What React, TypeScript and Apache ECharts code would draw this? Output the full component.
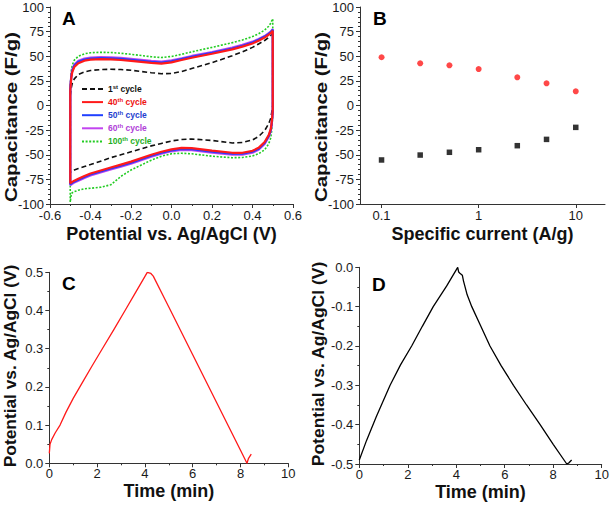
import React, { useEffect, useRef } from 'react';
import * as echarts from 'echarts';

// ---------- Panel A: cyclic voltammetry ----------
const CV_POTENTIAL = [-0.5, -0.495, -0.49, -0.48, -0.46, -0.43, -0.4, -0.35, -0.3, -0.25, -0.2, -0.1, -0.05, 0, 0.05, 0.1, 0.2, 0.3, 0.35, 0.4, 0.43, 0.46, 0.48, 0.49, 0.495, 0.5];

const CV1_UPPER = [10, 18, 22.5, 27, 31.5, 34, 35.5, 36.5, 36.8, 36.5, 35.8, 33.3, 32.3, 32.5, 34.5, 37.5, 43.5, 50.5, 54.5, 59, 62.5, 66, 69, 71, 72, 73];
const CV1_LOWER = [-68, -67, -66.5, -65.5, -64, -62, -60, -56.5, -53, -50, -47, -41, -38.5, -36, -34.5, -34, -35.5, -38, -37.5, -35, -31.5, -25.5, -18.5, -13, -7, 0];

const CV40_UPPER = [15, 28, 34, 39, 43, 45.5, 46.5, 47, 46.8, 46.2, 45.3, 43.3, 42.5, 43.8, 46.2, 48.5, 52.5, 57, 59.8, 63, 65.8, 69, 71.8, 73.5, 74.5, 76];
const CV40_LOWER = [-79, -78.3, -77.6, -76.3, -74.3, -71.5, -69, -66, -63, -60, -57, -50, -47, -44.5, -43, -43.3, -45.8, -48, -48, -46, -43, -37, -30, -24, -17, -5];

const CV50_UPPER = [16, 29, 35.5, 40.5, 44.3, 46.6, 47.6, 48.1, 47.9, 47.3, 46.4, 44.3, 43.6, 44.8, 47.1, 49.4, 53.4, 57.9, 60.7, 63.9, 66.7, 70, 72.8, 74.5, 75.5, 77];
const CV50_LOWER = [-80, -79.3, -78.6, -77.3, -75.3, -72.5, -70, -67, -64, -61, -58, -51, -48, -45.5, -44, -44.3, -46.8, -49, -49, -47, -44, -38, -31, -25, -18, -6];

const CV60_UPPER = [17, 30, 36.5, 41.5, 45.3, 47.6, 48.6, 49.1, 48.9, 48.3, 47.4, 45.3, 44.6, 45.8, 48, 50.3, 54.3, 58.8, 61.6, 64.8, 67.5, 70.5, 73.5, 75, 76, 77.5];
const CV60_LOWER = [-81, -80.3, -79.6, -78.3, -76.3, -73.5, -71, -68, -65, -62, -59, -52, -49, -46.5, -45, -45.3, -47.8, -50, -50, -48, -45, -39, -32, -26, -19, -7];

const CV100_UPPER = [20, 35, 41, 46, 50, 52.5, 53.6, 54, 53.8, 53, 52, 49.5, 48.7, 49.8, 52, 54.5, 59, 63.8, 66.5, 70, 72.8, 76.5, 80.5, 83.5, 86, 88];
const CV100_LOWER = [-98, -90, -88.5, -87.5, -86, -84.5, -84, -83, -80.5, -72, -65.5, -55.5, -51.5, -49, -48.5, -49, -51.5, -53, -52.8, -51.3, -49, -45, -39, -33, -25, -10];

const CYCLE_NUMS = ['1', '40', '50', '60', '100'];
const CYCLE_SUFFIX = ['st', 'th', 'th', 'th', 'th'];
const CYCLE_LINE_COLORS = ['#111111', '#ff1a1a', '#2040ff', '#c244f0', '#22cc22'];
const CYCLE_TEXT_COLORS = ['#111111', '#ee1111', '#1f3fd0', '#b040d8', '#1fb01f'];

// ---------- Panel B: rate capability ----------
const RATE_CURRENTS = [0.1, 0.25, 0.5, 1, 2.5, 5, 10];
const RATE_CHARGE = [49, 42.8, 40.8, 37, 28.6, 22.5, 14.4];
const RATE_DISCHARGE = [-55.3, -50.3, -47.5, -44.9, -40.8, -34.4, -22.2];

// ---------- Panel C: charge/discharge 0..0.5 V ----------
const GCD_C_TIME = [0, 0.03, 0.1, 0.25, 0.45, 0.7, 1.0, 1.4, 1.8, 2.2, 2.7, 3.17, 3.6, 4.1, 4.25, 4.35, 5, 6, 7, 8, 8.27, 8.33, 8.45];
const GCD_C_POT = [0.026, 0.05, 0.062, 0.08, 0.1, 0.134, 0.17, 0.213, 0.256, 0.298, 0.35, 0.4, 0.446, 0.5, 0.497, 0.49, 0.409, 0.284, 0.159, 0.034, 0.0, 0.012, 0.024];

// ---------- Panel D: charge/discharge -0.5..0 V ----------
const GCD_D_TIME = [0, 0.3, 0.7, 1.27, 1.7, 2.16, 2.6, 3.05, 3.6, 4.06, 4.1, 4.15, 4.25, 4.3, 4.45, 4.64, 5.0, 5.39, 5.85, 6.36, 6.9, 7.46, 8.0, 8.56, 8.65, 8.76];
const GCD_D_POT = [-0.49, -0.44, -0.38, -0.3, -0.248, -0.2, -0.15, -0.1, -0.048, 0.0, -0.012, -0.015, -0.02, -0.035, -0.07, -0.1, -0.148, -0.2, -0.25, -0.3, -0.35, -0.4, -0.45, -0.5, -0.497, -0.49];

const Y_TITLES = ['Capacitance (F/g)', 'Capacitance (F/g)', 'Potential vs. Ag/AgCl (V)', 'Potential vs. Ag/AgCl (V)'];
const PANEL_LETTERS = ['A', 'B', 'C', 'D'];

const FONT = '"Liberation Sans", Arial, sans-serif';

function loopPoints(upper: number[], lower: number[]) {
  const pts: number[][] = CV_POTENTIAL.map((v, i) => [v, upper[i]]);
  for (let i = CV_POTENTIAL.length - 1; i >= 0; i--) pts.push([CV_POTENTIAL[i], lower[i]]);
  pts.push([CV_POTENTIAL[0], upper[0]]);
  return pts;
}

const axisCommon = {
  axisLine: { show: true, onZero: false, lineStyle: { color: '#333', width: 1 } },
  axisTick: { show: true, inside: false, length: 4, lineStyle: { color: '#333' } },
  minorTick: { show: true, length: 2, lineStyle: { color: '#333' } },
  splitLine: { show: false },
  axisLabel: { fontSize: 13, color: '#1a1a1a', fontFamily: FONT },
  nameLocation: 'middle' as const,
  nameTextStyle: { fontSize: 18, fontWeight: 'bold' as const, color: '#111', fontFamily: FONT },
};

export default function App() {
  const ref = useRef<HTMLDivElement>(null);
  useEffect(() => {
    if (!ref.current) return;
    const chart = echarts.init(ref.current, undefined, { renderer: 'svg' });
    const names = CYCLE_NUMS.map((n, i) => `${n}${CYCLE_SUFFIX[i]} cycle`);
    const uppers = [CV1_UPPER, CV40_UPPER, CV50_UPPER, CV60_UPPER, CV100_UPPER];
    const lowers = [CV1_LOWER, CV40_LOWER, CV50_LOWER, CV60_LOWER, CV100_LOWER];
    const lineTypes: any[] = [[5, 3], 'solid', 'solid', 'solid', [2, 1.6]];
    const widths = [1.6, 2.2, 2.2, 2.2, 1.6];
    const zs = [3, 6, 5, 4, 2];

    const rich: any = {};
    CYCLE_NUMS.forEach((_, i) => {
      rich['n' + i] = { fontSize: 8.5, fontWeight: 'bold', color: CYCLE_TEXT_COLORS[i], fontFamily: FONT, lineHeight: 10 };
      rich['s' + i] = { fontSize: 6, fontWeight: 'bold', color: CYCLE_TEXT_COLORS[i], fontFamily: FONT, verticalAlign: 'top', lineHeight: 7 };
    });

    const cvSeries = names.map((name, i) => ({
      name,
      type: 'line',
      xAxisIndex: 0,
      yAxisIndex: 0,
      data: loopPoints(uppers[i], lowers[i]),
      symbol: 'none',
      showSymbol: false,
      z: zs[i],
      lineStyle: { color: CYCLE_LINE_COLORS[i], width: widths[i], type: lineTypes[i] },
      itemStyle: { color: CYCLE_LINE_COLORS[i] },
    }));

    const yTitlePos = [
      { x: 11, y: 117, scale: 1.2 },
      { x: 321, y: 117, scale: 1.2 },
      { x: 10, y: 366, scale: 1.02 },
      { x: 318, y: 364, scale: 1.03 },
    ];
    const letterPos = [
      { x: 62, y: 18.5 },
      { x: 373, y: 18.5 },
      { x: 62, y: 283 },
      { x: 372, y: 284 },
    ];

    const graphic: any[] = [
      ...PANEL_LETTERS.map((t, i) => ({
        type: 'text', x: letterPos[i].x, y: letterPos[i].y,
        style: { text: t, fontSize: 19, fontWeight: 'bold', fontFamily: FONT, fill: '#000', verticalAlign: 'middle' },
      })),
      ...Y_TITLES.map((t, i) => ({
        type: 'text', x: yTitlePos[i].x, y: yTitlePos[i].y, rotation: Math.PI / 2, scaleX: yTitlePos[i].scale,
        style: { text: t, fontSize: 17, fontWeight: 'bold', fontFamily: FONT, fill: '#111', align: 'center', verticalAlign: 'middle' },
      })),
    ];

    const option: any = {
      animation: false,
      grid: [
        { left: 50, top: 7, width: 243, height: 197 },
        { left: 360, top: 7, width: 245, height: 197 },
        { left: 49.3, top: 272.3, width: 239, height: 191 },
        { left: 359.3, top: 267.3, width: 242.4, height: 196.7 },
      ],
      legend: {
        orient: 'vertical',
        left: 81,
        top: 84,
        padding: 0,
        itemWidth: 21,
        itemHeight: 8,
        itemGap: 3.6,
        selectedMode: false,
        itemStyle: { opacity: 0 },
        data: names.map((n) => ({ name: n })),
        formatter: (name: string) => {
          const i = names.indexOf(name);
          return `{n${i}|${CYCLE_NUMS[i]}}{s${i}|${CYCLE_SUFFIX[i]}}{n${i}| cycle}`;
        },
        textStyle: { rich },
      },
      xAxis: [
        {
          ...axisCommon, type: 'value', gridIndex: 0, min: -0.6, max: 0.6, interval: 0.2,
          minorTick: { ...axisCommon.minorTick, splitNumber: 2 },
          axisLabel: { ...axisCommon.axisLabel, margin: 5, formatter: (v: number) => v.toFixed(1) },
          name: 'Potential vs. Ag/AgCl (V)', nameGap: 21,
        },
        {
          ...axisCommon, type: 'log', logBase: 10, gridIndex: 1, min: 0.06, max: 20,
          minorTick: { show: false },
          axisLabel: { ...axisCommon.axisLabel, margin: 5, showMinLabel: false, showMaxLabel: false },
          name: 'Specific current (A/g)', nameGap: 21,
        },
        {
          ...axisCommon, type: 'value', gridIndex: 2, min: 0, max: 10, interval: 2,
          minorTick: { ...axisCommon.minorTick, splitNumber: 2 },
          axisLabel: { ...axisCommon.axisLabel, margin: 4 },
          name: 'Time (min)', nameGap: 19,
        },
        {
          ...axisCommon, type: 'value', gridIndex: 3, min: 0, max: 10, interval: 2,
          minorTick: { ...axisCommon.minorTick, splitNumber: 2 },
          axisLabel: { ...axisCommon.axisLabel, margin: 4 },
          name: 'Time (min)', nameGap: 19,
        },
      ],
      yAxis: [
        {
          ...axisCommon, type: 'value', gridIndex: 0, min: -100, max: 100, interval: 25,
          minorTick: { ...axisCommon.minorTick, splitNumber: 5 },
          axisLabel: { ...axisCommon.axisLabel, margin: 6 },
        },
        {
          ...axisCommon, type: 'value', gridIndex: 1, min: -100, max: 100, interval: 25,
          minorTick: { ...axisCommon.minorTick, splitNumber: 5 },
          axisLabel: { ...axisCommon.axisLabel, margin: 6 },
        },
        {
          ...axisCommon, type: 'value', gridIndex: 2, min: 0, max: 0.5, interval: 0.1,
          minorTick: { ...axisCommon.minorTick, splitNumber: 2 },
          axisLabel: { ...axisCommon.axisLabel, margin: 6, formatter: (v: number) => v.toFixed(1) },
        },
        {
          ...axisCommon, type: 'value', gridIndex: 3, min: -0.5, max: 0, interval: 0.1,
          minorTick: { ...axisCommon.minorTick, splitNumber: 2 },
          axisLabel: { ...axisCommon.axisLabel, margin: 6, formatter: (v: number) => v.toFixed(1) },
        },
      ],
      graphic,
      series: [
        ...cvSeries,
        {
          name: 'charge', type: 'scatter', xAxisIndex: 1, yAxisIndex: 1,
          data: RATE_CURRENTS.map((c, i) => [c, RATE_CHARGE[i]]),
          symbol: 'circle', symbolSize: 6, itemStyle: { color: '#ff1a1a' },
        },
        {
          name: 'discharge', type: 'scatter', xAxisIndex: 1, yAxisIndex: 1,
          data: RATE_CURRENTS.map((c, i) => [c, RATE_DISCHARGE[i]]),
          symbol: 'rect', symbolSize: 5.5, itemStyle: { color: '#000' },
        },
        {
          name: 'gcdC', type: 'line', xAxisIndex: 2, yAxisIndex: 2,
          data: GCD_C_TIME.map((t, i) => [t, GCD_C_POT[i]]),
          symbol: 'none', lineStyle: { color: '#ff1a1a', width: 1.3 },
        },
        {
          name: 'gcdD', type: 'line', xAxisIndex: 3, yAxisIndex: 3,
          data: GCD_D_TIME.map((t, i) => [t, GCD_D_POT[i]]),
          symbol: 'none', lineStyle: { color: '#000', width: 1.3 },
        },
      ],
    };
    chart.setOption(option);
    return () => chart.dispose();
  }, []);
  return <div ref={ref} style={{ position: 'absolute', left: 0, top: 0, width: 614, height: 506, background: '#fff' }} />;
}
